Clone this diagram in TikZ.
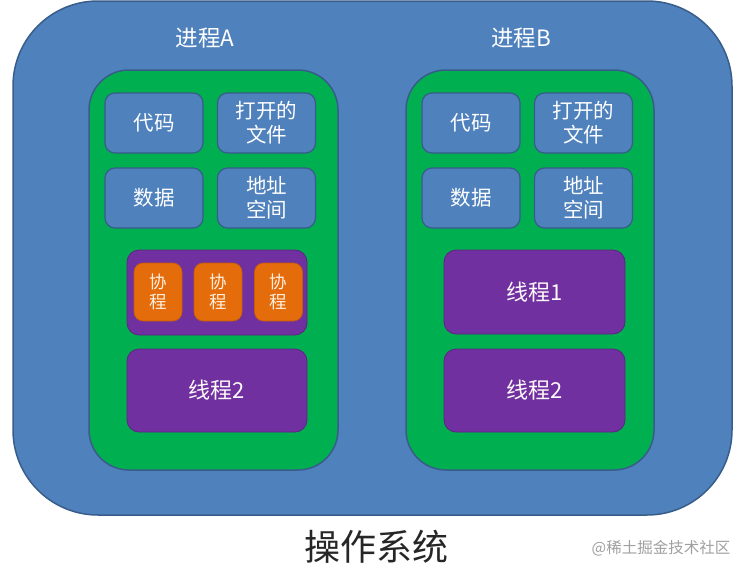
\documentclass[tikz,border=0pt]{standalone}
\usepackage{fontspec}
\setmainfont{Noto Sans CJK SC}
\definecolor{osblue}{HTML}{4F81BD}
\definecolor{osedge}{HTML}{385D8A}
\definecolor{procgreen}{HTML}{00B050}
\definecolor{thrpurple}{HTML}{7030A0}
\definecolor{coorange}{HTML}{E46C0A}
\definecolor{wmgray}{HTML}{A0A0A0}
\tikzset{
  osbox/.style={draw=osedge, line width=1.5pt, fill=osblue, rounded corners=85pt, inner sep=0pt},
  procbox/.style={draw=osedge, line width=1.5pt, fill=procgreen, rounded corners=40pt, inner sep=0pt, minimum width=249pt, minimum height=400pt},
  resbox/.style={draw=osedge, line width=1.2pt, fill=osblue, rounded corners=10pt, inner sep=0pt, minimum width=98pt, minimum height=60pt, text=white, font=\fontsize{20.5}{24}\selectfont, align=center},
  thrbox/.style={draw=thrpurple!80!black, line width=0.8pt, fill=thrpurple, rounded corners=12pt, inner sep=0pt, minimum width=180pt, minimum height=84pt, text=white!92!pink, font=\fontsize{22}{24}\selectfont, align=center},
  cobox/.style={draw=coorange!85!black, line width=0.6pt, fill=coorange, rounded corners=9pt, inner sep=0pt, minimum width=48pt, minimum height=58pt, text=white!88!orange, font=\fontsize{17.5}{20.5}\selectfont, align=center},
  ptitle/.style={text=white, font=\fontsize{22.5}{24}\selectfont, inner sep=0pt},
}
\begin{document}
\begin{tikzpicture}[x=1pt,y=-1pt]
\useasboundingbox (0,0) rectangle (748,573);
\fill[white] (0,0) rectangle (748,573);
\node[osbox, minimum width=719pt, minimum height=514pt] (os) at (372.5,258) {};
\node[ptitle] (tA) at (205,38) {进程A};
\node[ptitle] (tB) at (521,38) {进程B};
% process A
\node[procbox] (pA) at (213.5,270) {};
\node[resbox] (codeA) at (154,123) {代码};
\node[resbox] (fileA) at (266.5,123) {打开的\\文件};
\node[resbox] (dataA) at (154,198) {数据};
\node[resbox] (addrA) at (266.5,198) {地址\\空间};
\node[thrbox, minimum height=85pt] (t1A) at (217,292.5) {};
\node[cobox] (co1) at (158,292) {协\\程};
\node[cobox] (co2) at (218,292) {协\\程};
\node[cobox] (co3) at (278.5,292) {协\\程};
\node[thrbox, minimum height=83pt] (t2A) at (217,390.5) {线程2};
% process B
\node[procbox, minimum width=248pt] (pB) at (530,270) {};
\node[resbox] (codeB) at (471,123) {代码};
\node[resbox] (fileB) at (583.5,123) {打开的\\文件};
\node[resbox] (dataB) at (471,198) {数据};
\node[resbox] (addrB) at (583.5,198) {地址\\空间};
\node[thrbox, minimum width=181pt] (t1B) at (534.5,292) {线程1};
\node[thrbox, minimum width=181pt, minimum height=83pt] (t2B) at (534.5,390.5) {线程2};
% labels
\node[font=\fontsize{36}{40}\selectfont, text=black!85, inner sep=0pt] (osl) at (376,547) {操作系统};
\node[font=\fontsize{15.5}{18}\selectfont, text=wmgray, inner sep=0pt] (wm) at (661,548) {@稀土掘金技术社区};
\end{tikzpicture}
\end{document}
